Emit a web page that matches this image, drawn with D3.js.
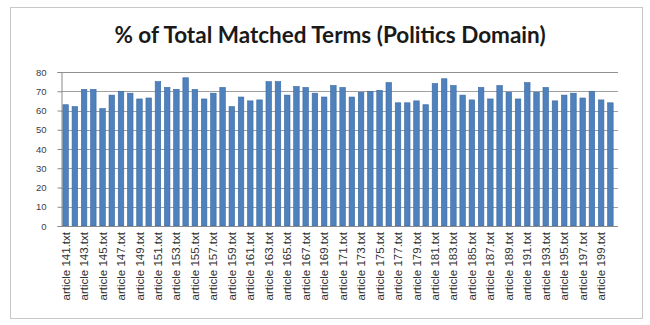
<!DOCTYPE html>
<html>
<head>
<meta charset="utf-8">
<script src="https://cdn.jsdelivr.net/npm/d3@7"></script>
<style>
  html, body { margin: 0; padding: 0; background: #ffffff; }
  svg { display: block; }
</style>
</head>
<body>
<svg id="chart" width="650" height="325"></svg>
<script>
// Articles 141–200 and their share of matched terms (%)
const articles = d3.range(141, 201).map(n => "article " + n + ".txt");
const matchedPct = [
  63, 62, 71, 71, 61, 68, 70, 69, 66, 66.5,
  75, 72, 71, 77, 71, 66, 69, 72, 62, 67,
  65, 65.5, 75, 75, 68, 72.5, 72, 69, 67, 73,
  72, 67, 69.5, 70, 70.5, 74.5, 64, 64, 65, 63,
  74, 76.5, 73, 68, 65.5, 72, 66, 73, 69.5, 66,
  74.5, 69.5, 72, 65, 68, 69, 66.5, 70, 65.5, 64
];
const yTicks = [0, 10, 20, 30, 40, 50, 60, 70, 80];
const titleText = "% of Total Matched Terms (Politics Domain)";

const svg = d3.select("#chart");

// outer chart frame
svg.append("rect")
  .attr("x", 10.5).attr("y", 7.5)
  .attr("width", 632).attr("height", 311)
  .attr("fill", "#ffffff")
  .attr("stroke", "#c8c8c8");

svg.append("text")
  .attr("x", 330).attr("y", 43)
  .attr("text-anchor", "middle")
  .attr("font-family", "Lato, 'Open Sans', sans-serif")
  .attr("font-weight", "bold")
  .attr("font-size", 22.5)
  .attr("fill", "#1a1a1a")
  .text(titleText);

const plot = { left: 61, right: 615, top: 72, bottom: 226 };

const x = d3.scaleBand()
  .domain(articles)
  .range([plot.left, plot.right])
  .paddingInner(0.4)
  .paddingOuter(0.2);

const y = d3.scaleLinear()
  .domain([0, 80])
  .range([plot.bottom, plot.top]);

// horizontal gridlines
svg.append("g")
  .selectAll("line")
  .data(yTicks.filter(t => t > 0))
  .join("line")
  .attr("x1", plot.left).attr("x2", plot.right + 3)
  .attr("y1", d => Math.round(y(d)) + 0.5)
  .attr("y2", d => Math.round(y(d)) + 0.5)
  .attr("stroke", d => d === 80 ? "#909090" : "#a0a0a0")
  .attr("stroke-width", 1);

// bars
svg.append("g")
  .selectAll("rect")
  .data(matchedPct)
  .join("rect")
  .attr("x", (d, i) => x(articles[i]))
  .attr("y", d => y(d))
  .attr("width", x.bandwidth())
  .attr("height", d => y(0) - y(d))
  .attr("fill", "#4f81bd")
  .attr("stroke", "#3b6aa3")
  .attr("stroke-width", 0.6);

// y axis
const yAxis = d3.axisLeft(y)
  .tickValues(yTicks)
  .tickSize(4)
  .tickFormat(d3.format("d"));

const gy = svg.append("g")
  .attr("transform", `translate(${plot.left + 0.5},0)`)
  .call(yAxis);
gy.select(".domain").attr("stroke", "#8a8a8a");
gy.selectAll(".tick line").attr("stroke", "#8a8a8a");
gy.selectAll(".tick text")
  .attr("font-family", "'Liberation Sans', Arial, sans-serif")
  .attr("font-size", 9.5)
  .attr("fill", "#404040")
  .attr("dx", -8);

// x axis baseline
svg.append("line")
  .attr("x1", plot.left).attr("x2", plot.right + 3)
  .attr("y1", plot.bottom + 0.5).attr("y2", plot.bottom + 0.5)
  .attr("stroke", "#8a8a8a");

// x labels: every other article, rotated
const xAxis = d3.axisBottom(x)
  .tickValues(articles.filter((a, i) => i % 2 === 0))
  .tickSize(0);

const gx = svg.append("g")
  .attr("transform", `translate(0,${plot.bottom})`)
  .call(xAxis);
gx.select(".domain").remove();
gx.selectAll(".tick text")
  .attr("font-family", "'Liberation Sans', Arial, sans-serif")
  .attr("font-size", 11.5)
  .attr("fill", "#303030")
  .attr("text-anchor", "end")
  .attr("transform", "rotate(-90)")
  .attr("x", -6)
  .attr("y", 0)
  .attr("dy", "0.35em");
</script>
</body>
</html>
